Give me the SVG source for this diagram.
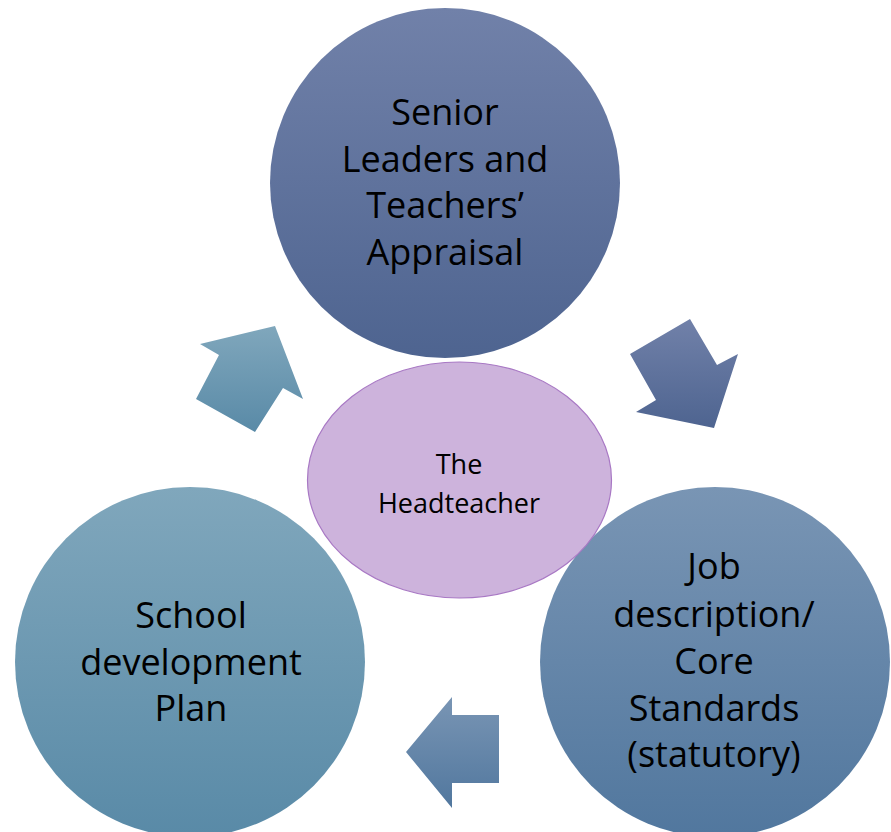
<svg xmlns="http://www.w3.org/2000/svg" width="891" height="832" viewBox="0 0 891 832">
  <defs>
    <linearGradient id="gTop" x1="0" y1="0" x2="0" y2="1">
      <stop offset="0" stop-color="#7181a9"/>
      <stop offset="1" stop-color="#4e6490"/>
    </linearGradient>
    <linearGradient id="gRight" x1="0" y1="0" x2="0" y2="1">
      <stop offset="0" stop-color="#7995b4"/>
      <stop offset="1" stop-color="#51779e"/>
    </linearGradient>
    <linearGradient id="gLeft" x1="0" y1="0" x2="0" y2="1">
      <stop offset="0" stop-color="#80a7bc"/>
      <stop offset="1" stop-color="#598aa7"/>
    </linearGradient>
    <style>
      .big { font-family: "Open Sans", "Noto Sans", sans-serif; font-size: 36px; fill: #000; text-anchor: middle; }
      .small { font-family: "Open Sans", "Noto Sans", sans-serif; font-size: 27px; fill: #000; text-anchor: middle; }
    </style>
  </defs>
  <rect width="891" height="832" fill="#ffffff"/>

  <!-- cycle arrows -->
  <g id="connectors">
    <polygon points="275,326 200,344 219,355 196,399 255,432 283,388 303,399" fill="url(#gLeft)"/>
    <polygon points="690,319 717,365 738,354 714,428 636,412 656,400 630,354" fill="url(#gTop)"/>
    <polygon points="406,752 452,697 452,715 499,715 499,783 452,783 452,808" fill="url(#gRight)"/>
  </g>

  <g id="node-appraisal">
    <circle cx="445" cy="183" r="175" fill="url(#gTop)"/>
    <text class="big" x="445" y="125">Senior</text>
    <text class="big" x="445" y="172">Leaders and</text>
    <text class="big" x="445" y="218">Teachers’</text>
    <text class="big" x="445" y="265">Appraisal</text>
  </g>

  <g id="node-plan">
    <circle cx="190" cy="662" r="175" fill="url(#gLeft)"/>
    <text class="big" x="191" y="628">School</text>
    <text class="big" x="191" y="675">development</text>
    <text class="big" x="191" y="721">Plan</text>
  </g>

  <g id="node-standards">
    <circle cx="715" cy="662" r="175" fill="url(#gRight)"/>
    <text class="big" x="714" y="579">Job</text>
    <text class="big" x="714" y="627">description/</text>
    <text class="big" x="714" y="674">Core</text>
    <text class="big" x="714" y="721">Standards</text>
    <text class="big" x="714" y="767">(statutory)</text>
  </g>

  <g id="node-headteacher">
    <ellipse cx="459.5" cy="480" rx="152" ry="118" fill="#cdb3dc" stroke="#a878c4" stroke-width="1.2"/>
    <text class="small" x="459" y="474">The</text>
    <text class="small" x="459" y="513">Headteacher</text>
  </g>
</svg>
